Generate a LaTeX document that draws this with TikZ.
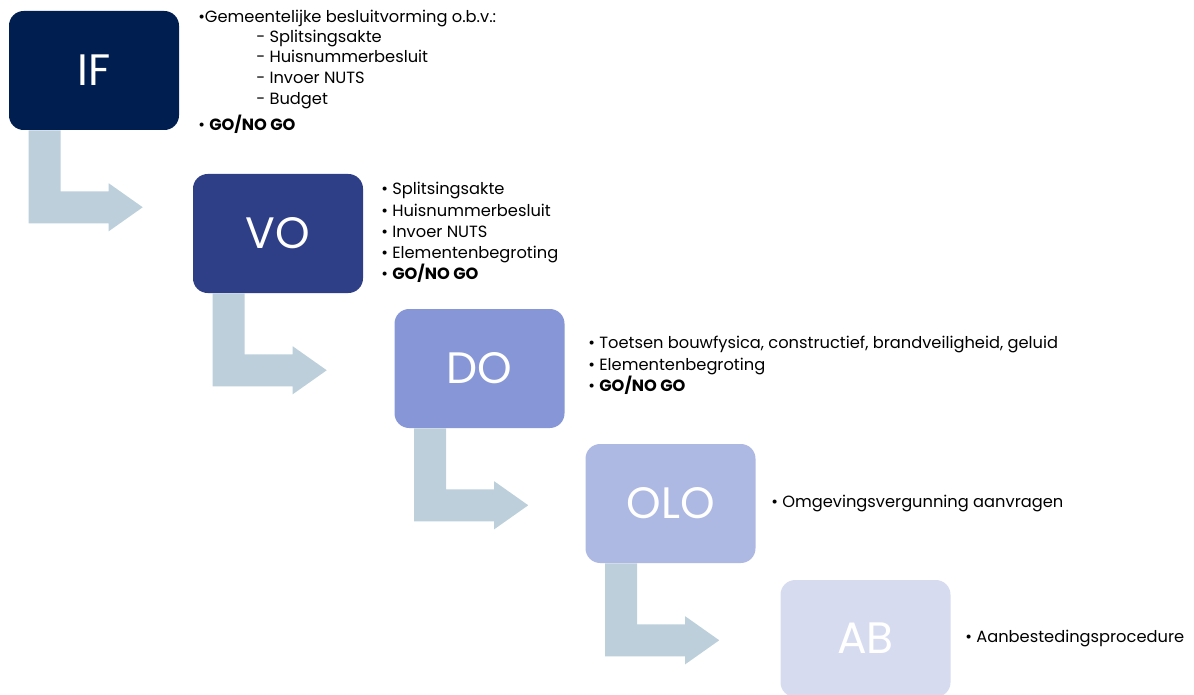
\documentclass[tikz,border=0pt]{standalone}
\usepackage{fontspec}
\setmainfont{Poppins}
\usetikzlibrary{calc}
\definecolor{cIF}{HTML}{001E50}
\definecolor{cVO}{HTML}{2E3F87}
\definecolor{cDO}{HTML}{8696D7}
\definecolor{cOLO}{HTML}{ADB8E3}
\definecolor{cAB}{HTML}{D6DBF0}
\definecolor{carrow}{HTML}{BCCFDB}
\tikzset{
  phase/.style={rounded corners=11pt, minimum width=127.5pt, minimum height=89.25pt, inner sep=0pt, text=white, font=\fontsize{33}{33}\selectfont},
  item/.style={anchor=west, inner sep=0pt, text height=9pt, text depth=2.5pt, font=\fontsize{12.2}{14}\selectfont, text=black},
  bentarrow/.style={fill=carrow, draw=none}
}
\newcommand{\bentarr}[1]{%
  \fill[bentarrow] ($(#1.south west)+(20,0)$) -- ++(32,0) -- ++(0,61) -- ++(48,0) -- ++(0,-8) -- ++(34,24) -- ++(-34,24) -- ++(0,-8) -- ++(-80,0) -- cycle;}
\begin{document}
\begin{tikzpicture}[x=0.75pt,y=-0.75pt]
\useasboundingbox (0,0) rectangle (1194,695);
% boxes
\node[phase, fill=cIF] (IF) at (94,70.5) {IF};
\node[phase, fill=cVO] (VO) at (278,233.5) {VO};
\node[phase, fill=cDO] (DO) at (479.5,368.5) {DO};
\node[phase, fill=cOLO] (OLO) at (670.5,503.5) {OLO};
\node[phase, fill=cAB, minimum height=87.75pt] (AB) at (865.5,638.5) {AB};
% arrows
\bentarr{IF}
\bentarr{VO}
\bentarr{DO}
\bentarr{OLO}
% IF texts
\node[item] (if1) at (198,18) {•Gemeentelijke besluitvorming o.b.v.:};
\node[item] (if2) at (256,38) {- Splitsingsakte};
\node[item] (if3) at (256,58) {- Huisnummerbesluit};
\node[item] (if4) at (256,79) {- Invoer NUTS};
\node[item] (if5) at (256,100) {- Budget};
\node[item] (if6) at (198,126) {• \textbf{GO/NO GO}};
% VO texts
\node[item] (vo1) at (381,190) {• Splitsingsakte};
\node[item] (vo2) at (381,212) {• Huisnummerbesluit};
\node[item] (vo3) at (381,233) {• Invoer NUTS};
\node[item] (vo4) at (381,254) {• Elementenbegroting};
\node[item] (vo5) at (381,275) {• \textbf{GO/NO GO}};
% DO texts
\node[item] (do1) at (588,344) {• Toetsen bouwfysica, constructief, brandveiligheid, geluid};
\node[item] (do2) at (588,366) {• Elementenbegroting};
\node[item] (do3) at (588,387) {• \textbf{GO/NO GO}};
% OLO text
\node[item] (olo1) at (771,503) {• Omgevingsvergunning aanvragen};
% AB text
\node[item] (ab1) at (965,638) {• Aanbestedingsprocedure};
\end{tikzpicture}
\end{document}
